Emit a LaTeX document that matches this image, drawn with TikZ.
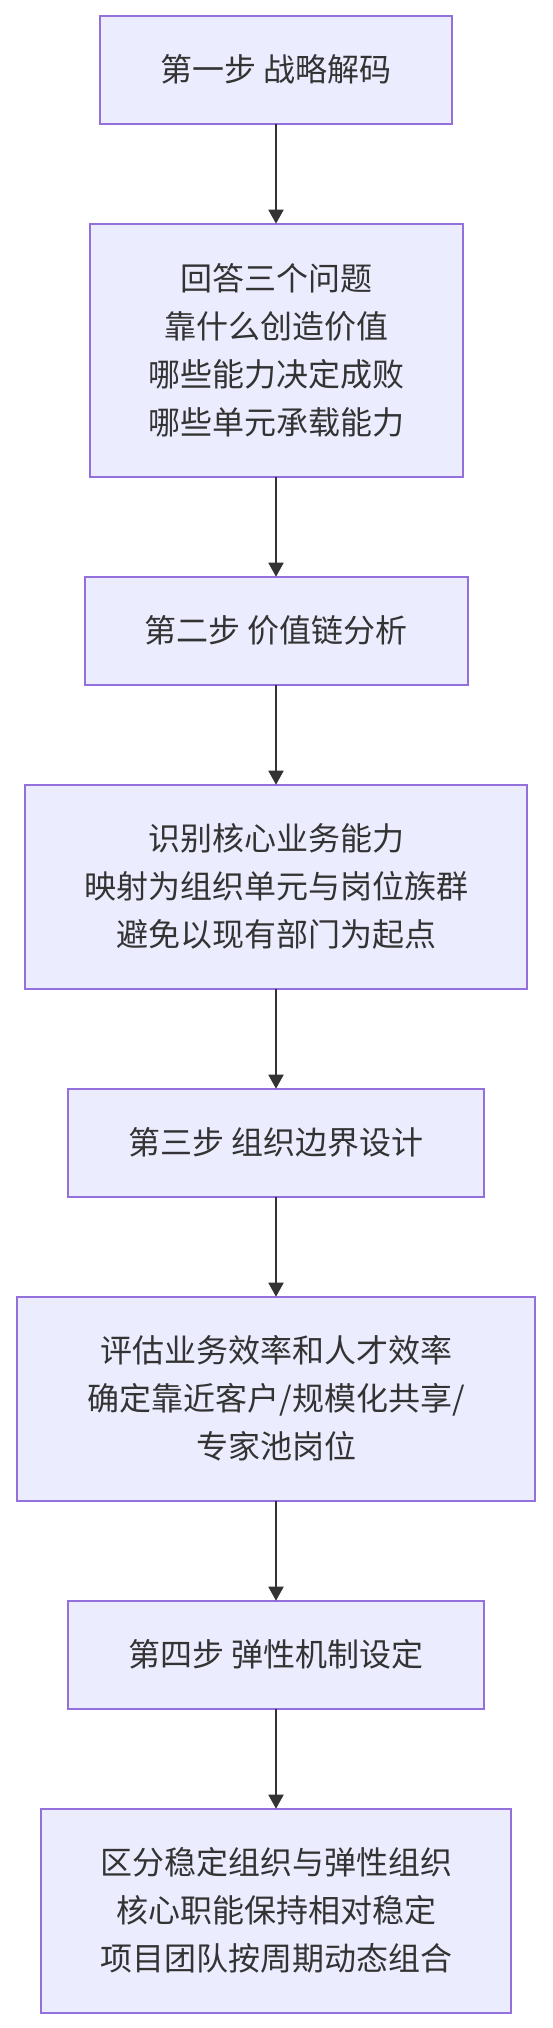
\documentclass[tikz,border=0pt]{standalone}
\usepackage{fontspec}
\setmainfont{Noto Sans CJK SC}
\usetikzlibrary{positioning, arrows.meta}

\definecolor{boxfill}{HTML}{ECECFF}
\definecolor{boxline}{HTML}{9370DB}
\definecolor{ink}{HTML}{333333}

\begin{document}
\begin{tikzpicture}[
  font=\fontsize{16pt}{24pt}\selectfont,
  stage/.style={draw=boxline, fill=boxfill, line width=1pt, align=center,
                text=ink, minimum height=54pt, inner sep=0pt, outer sep=0pt},
  detail/.style={stage, minimum height=102pt},
  flow/.style={line width=1pt, ink, -{Triangle[length=7pt, width=7.5pt]}},
]
  \useasboundingbox (0,0) rectangle (276pt,-1014pt);

  % step one: strategy decoding
  \node[stage, minimum width=176pt] (s1) at (138pt,-34.85pt) {第一步 战略解码};
  \node[detail, minimum width=186.5pt, minimum height=126.5pt, below=50pt of s1] (d1)
    {回答三个问题\\靠什么创造价值\\哪些能力决定成败\\哪些单元承载能力};

  % step two: value chain
  \node[stage, minimum width=191.5pt, below=50pt of d1] (s2) {第二步 价值链分析};
  \node[detail, minimum width=251pt, below=50pt of s2] (d2)
    {识别核心业务能力\\映射为组织单元与岗位族群\\避免以现有部门为起点};

  % step three: boundaries
  \node[stage, minimum width=208pt, below=50pt of d2] (s3) {第三步 组织边界设计};
  \node[detail, minimum width=259pt, below=50pt of s3] (d3)
    {评估业务效率和人才效率\\确定靠近客户/规模化共享/\\专家池岗位};

  % step four: elasticity
  \node[stage, minimum width=208pt, below=50pt of d3] (s4) {第四步 弹性机制设定};
  \node[detail, minimum width=235pt, below=50pt of s4] (d4)
    {区分稳定组织与弹性组织\\核心职能保持相对稳定\\项目团队按周期动态组合};

  \foreach \a/\b in {s1/d1, d1/s2, s2/d2, d2/s3, s3/d3, d3/s4, s4/d4}
    \draw[flow] (\a) -- (\b);
\end{tikzpicture}
\end{document}
